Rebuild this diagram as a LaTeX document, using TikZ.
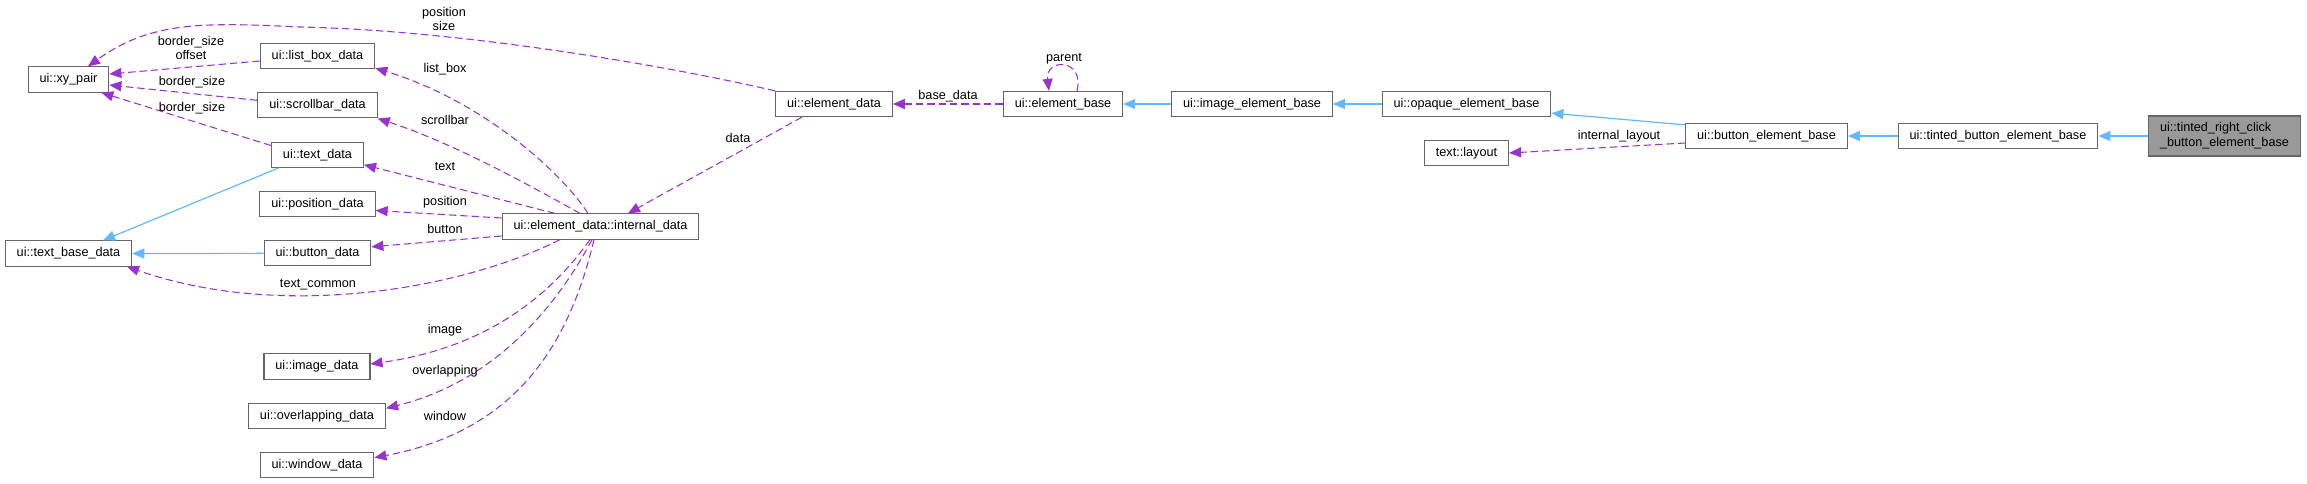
\documentclass[tikz,border=0pt]{standalone}
\usepackage{fontspec}
\setmainfont{Liberation Sans}
\usepackage{xcolor}
\usepackage{tikz}
\usetikzlibrary{arrows.meta,positioning,calc}
\definecolor{inhblue}{HTML}{63B8FF}
\definecolor{usepurple}{HTML}{9A32CD}
\definecolor{boxgray}{HTML}{666666}
\definecolor{focusgray}{HTML}{999999}
\tikzset{
  cls/.style={rectangle, draw=boxgray, line width=0.8pt, fill=white, minimum height=18.9pt, inner xsep=8.6pt, inner ysep=1pt, font=\fontsize{9.5}{12}\selectfont},
  focuscls/.style={cls, fill=focusgray, align=left, minimum height=30pt, font=\fontsize{9.5}{11.25}\selectfont},
  inherit/.style={-{Triangle[length=9pt,width=7.5pt]}, draw=inhblue, line width=0.9pt},
  uses/.style={-{Triangle[length=9pt,width=7.5pt]}, draw=usepurple, line width=0.8pt, dash pattern=on 5.5pt off 3pt},
  lbl/.style={font=\fontsize{9.5}{11}\selectfont, align=center, inner sep=0pt},
}

\begin{document}
\begin{tikzpicture}[x=0.75pt, y=-0.75pt, node distance=37pt]
  \useasboundingbox (0,0) rectangle (2307,483);

  % left side
  \node[cls] (xy) at (68.5,79.5) {ui::xy\_pair};
  \node[cls] (tbase) at (68.5,253.5) {ui::text\_base\_data};

  % member data classes
  \node[cls] (lbox) at (317.5,56) {ui::list\_box\_data};
  \node[cls, below of=lbox] (sbar) {ui::scrollbar\_data};
  \node[cls, below of=sbar] (tdata) {ui::text\_data};
  \node[cls, below of=tdata] (pdata) {ui::position\_data};
  \node[cls, below of=pdata] (bdata) {ui::button\_data};
  \node[cls] (imdata) at (317,366.5) {ui::image\_data};
  \node[cls, below of=imdata] (odata) {ui::overlapping\_data};
  \node[cls, below of=odata] (wdata) {ui::window\_data};

  \node[cls] (idata) at (600.5,226.5) {ui::element\_data::internal\_data};

  % main chain
  \node[cls] (edata) at (834,104) {ui::element\_data};
  \node[cls] (ebase) at (1063,104) {ui::element\_base};
  \node[cls] (iebase) at (1252,104) {ui::image\_element\_base};
  \node[cls] (obase) at (1466.5,104) {ui::opaque\_element\_base};
  \node[cls] (layout) at (1466.5,153) {text::layout};
  \node[cls] (bebase) at (1766.5,136) {ui::button\_element\_base};
  \node[cls] (tbebase) at (1998,136) {ui::tinted\_button\_element\_base};
  \node[focuscls] (focus) at (2224.5,136) {ui::tinted\_right\_click\\\_button\_element\_base};

  % inheritance
  \draw[inherit] (focus.west) -- (tbebase.east);
  \draw[inherit] (tbebase.west) -- (bebase.east);
  \draw[inherit] ($(bebase.north west)+(0,2)$) -- ($(obase.south east)+(0,-4)$);
  \draw[inherit] (obase.west) -- (iebase.east);
  \draw[inherit] (iebase.west) -- (ebase.east);
  \draw[inherit] ($(tdata.south west)+(8,0)$) -- ($(tbase.north)+(34.5,0)$);
  \draw[inherit] (bdata.west) -- (tbase.east);

  % usage
  \draw[uses] ($(bebase.west)+(0,7)$) -- (layout.east);
  \draw[uses] (ebase.west) -- (edata.east);
  \draw[uses] ($(ebase.north)+(14,0)$) .. controls (1085,58) and (1045,58) .. ($(ebase.north)+(-14,0)$);
  \draw[uses] ($(edata.south)+(-32,0)$) -- ($(idata.north)+(27.5,0)$);
  \draw[uses] (edata.north west) .. controls (650,62) and (450,30) .. (300,27)
    .. controls (200,22) and (150,22) .. ($(xy.north)+(19.5,0)$);
  \draw[uses] ($(lbox.west)+(0,5)$) -- ($(xy.east)+(0,-5.5)$);
  \draw[uses] ($(sbar.west)+(0,-5)$) -- ($(xy.east)+(0,5.5)$);
  \draw[uses] ($(tdata.north west)+(0,4)$) -- ($(xy.south east)+(-8,0)$);

  \draw[uses] ($(idata.north)+(-12.5,0)$) .. controls (560,170) and (480,100) .. ($(lbox.south east)+(0,-1)$);
  \draw[uses] ($(idata.north)+(-20.5,0)$) .. controls (520,180) and (450,142) .. (sbar.south east);
  \draw[uses] ($(idata.north)+(-45.5,0)$) -- ($(tdata.south east)+(0,-3)$);
  \draw[uses] ($(idata.west)+(0,-8.5)$) -- ($(pdata.east)+(0,6.5)$);
  \draw[uses] ($(idata.west)+(0,9.5)$) -- ($(bdata.east)+(0,-6.5)$);
  \draw[uses] ($(idata.south)+(-40.5,0)$) .. controls (460,290) and (280,320) .. ($(tbase.south)+(58.5,0)$);
  \draw[uses] ($(idata.south)+(-10.5,0)$) .. controls (540,310) and (470,350) .. ($(imdata.east)+(0,-2.5)$);
  \draw[uses] ($(idata.south)+(-8.5,0)$) .. controls (560,300) and (500,380) .. ($(odata.east)+(0,-7.5)$);
  \draw[uses] ($(idata.south)+(-6.5,0)$) .. controls (570,340) and (520,430) .. ($(wdata.east)+(0,-7.5)$);

  % edge labels
  \node[lbl] (lpossize) at (444,19) {position\\size};
  \node[lbl] (lbsoff) at (191,48) {border\_size\\offset};
  \node[lbl] (lbs1) at (192,82) {border\_size};
  \node[lbl] (lbs2) at (192,108) {border\_size};
  \node[lbl] (llist) at (445,69) {list\_box};
  \node[lbl] (lscroll) at (445,120) {scrollbar};
  \node[lbl] (ltext) at (445,166) {text};
  \node[lbl] (lpos) at (445,202) {position};
  \node[lbl] (lbutton) at (445,229) {button};
  \node[lbl] (lcommon) at (318,285) {text\_common};
  \node[lbl] (limage) at (445,330) {image};
  \node[lbl] (lover) at (445,371) {overlapping};
  \node[lbl] (lwindow) at (445,416) {window};
  \node[lbl] (ldata) at (738,138) {data};
  \node[lbl] (lbasedata) at (948,96) {base\_data};
  \node[lbl] (lparent) at (1064,59) {parent};
  \node[lbl] (llayout) at (1619,136) {internal\_layout};
\end{tikzpicture}
\end{document}
